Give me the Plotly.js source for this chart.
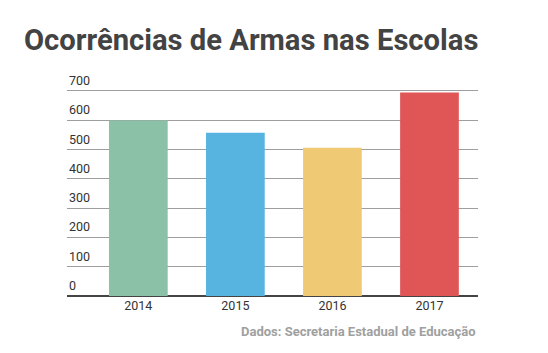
<!DOCTYPE html>
<html>
<head>
<meta charset="utf-8">
<script src="https://cdn.plot.ly/plotly-3.0.1.min.js"></script>
<style>html,body{margin:0;padding:0;background:#fff;}#chart{width:548px;height:353px;}</style>
</head>
<body>
<div id="chart"></div>
<script>
const years = ['2014', '2015', '2016', '2017'];
const occurrences = [599, 557, 506, 695];
const barColors = ['#8AC1A7', '#57B4E1', '#F0C975', '#E05657'];
const yTicks = [0, 100, 200, 300, 400, 500, 600, 700];
const titleText = 'Ocorrências de Armas nas Escolas';
const sourceText = 'Dados: Secretaria Estadual de Educação';

const trace = {
  type: 'bar',
  x: years,
  y: occurrences,
  marker: {color: barColors, line: {width: 0}},
  hoverinfo: 'none'
};

const tickAnnotations = yTicks.map(v => ({
  text: String(v),
  xref: 'paper', yref: 'y',
  x: 0, xanchor: 'left',
  y: v, yanchor: 'bottom',
  yshift: 1,
  showarrow: false,
  font: {family: 'Roboto, sans-serif', size: 12.5, color: '#333333'}
}));

const layout = {
  width: 548,
  height: 353,
  margin: {l: 67, r: 70, t: 89, b: 57, pad: 0},
  paper_bgcolor: '#ffffff',
  plot_bgcolor: '#ffffff',
  font: {family: 'Roboto, sans-serif', color: '#333333'},
  showlegend: false,
  bargap: 0.395,
  title: {
    text: '<b>' + titleText + '</b>',
    font: {family: 'Roboto, sans-serif', size: 29.2, color: '#434343'},
    xref: 'container', yref: 'container',
    x: 24 / 548, xanchor: 'left',
    y: 1 - 40 / 353, yanchor: 'middle',
    pad: {t: 0, b: 0, l: 0, r: 0}
  },
  xaxis: {
    type: 'category',
    range: [-0.735, 3.5],
    showgrid: false,
    showline: false,
    zeroline: false,
    ticks: '',
    tickfont: {family: 'Roboto, sans-serif', size: 12.5, color: '#333333'},
    fixedrange: true
  },
  yaxis: {
    range: [0, 706.8],
    tickvals: yTicks,
    showticklabels: false,
    showgrid: true,
    gridcolor: '#9e9e9e',
    gridwidth: 1,
    zeroline: true,
    zerolinecolor: '#444444',
    zerolinewidth: 2.5,
    showline: false,
    ticks: '',
    fixedrange: true
  },
  annotations: tickAnnotations.concat([{
    text: '<b>' + sourceText + '</b>',
    xref: 'paper', yref: 'paper',
    x: 1, xanchor: 'right',
    y: (296 - 331) / 207, yanchor: 'middle',
    showarrow: false,
    font: {family: 'Roboto, sans-serif', size: 13, color: '#a0a0a0'}
  }])
};

Plotly.newPlot('chart', [trace], layout, {displayModeBar: false, staticPlot: true});
</script>
</body>
</html>
